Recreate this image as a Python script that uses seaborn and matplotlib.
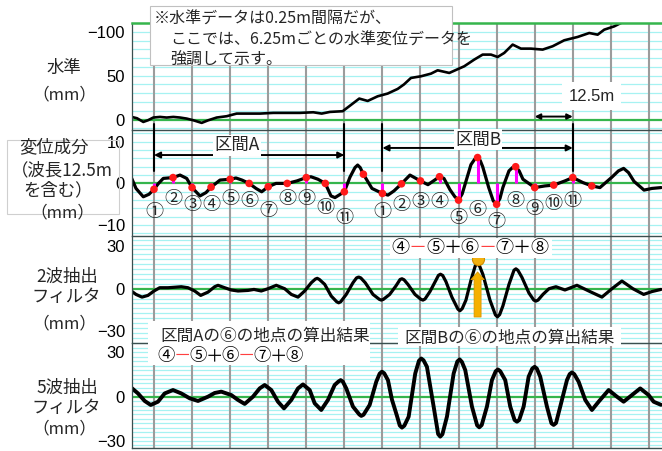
import matplotlib
matplotlib.use("Agg")
import matplotlib.pyplot as plt
from matplotlib.patches import Rectangle
import numpy as np
import pandas as pd
import seaborn as sns

# ---------------- data (distance in m, values in mm) ----------------
# track level
level_x = [-7.32, -5.58, -3.51, -1.97, -0.23, 1.97, 4.17, 6.34, 8.54, 10.74,
           12.90, 15.66, 17.83, 20.58, 23.87, 27.15, 30.43, 34.80, 39.17, 43.57,
           47.93, 52.30, 55.06, 57.78, 61.95, 64.12, 67.40, 70.16, 73.44, 76.72,
           80.01, 82.07, 84.37, 87.66, 90.94, 93.14, 96.95, 101.87, 105.15, 107.91,
           110.64, 112.84, 115.00, 117.76, 120.49, 123.77, 127.61, 130.89, 134.70, 139.10,
           142.91, 145.67, 147.83, 151.12, 153.32, 157.9]
level_mm = [3.0, 1.5, -2.7, -0.8, 2.3, 3.0, 2.3, 3.0, 2.3, 1.1,
            -0.8, -3.8, -0.8, 2.3, 3.8, 6.8, 6.8, 6.8, 7.6, 7.6,
            7.6, 8.3, 6.8, 8.7, 9.5, 15.2, 23.9, 21.2, 26.5, 29.6,
            34.9, 40.0, 47.4, 49.3, 52.3, 56.1, 53.1, 60.7, 68.3, 74.0,
            74.0, 71.3, 75.9, 85.4, 80.8, 80.8, 79.7, 83.5, 90.3, 94.1,
            98.6, 96.7, 102.4, 106.2, 110.0, 116.0]

# displacement component: values every 6.25 m in section A and section B
sec_a_x = [0.0, 6.25, 12.5, 18.75, 25.0, 31.25, 37.5, 43.75, 50.0, 56.25, 62.5]
sec_a_mm = [-1.4, 1.4, -1.0, -0.9, 1.0, 0.0, -0.8, 0.0, 1.4, 0.0, -2.0]
sec_b_x = [75.0, 81.25, 87.5, 93.75, 100.0, 106.25, 112.5, 118.75, 125.0, 131.25, 137.5]
sec_b_mm = [-2.4, -0.1, 0.6, 1.6, -4.0, 6.2, -5.0, 4.0, -1.0, -0.4, 1.4]
side_x = [68.75, 143.75]
side_mm = [2.2, -0.6]
# displacement component between the 6.25 m points
disp_x = [-7.32, -5.91, -3.51, -1.64, 1.48, 3.05, 8.54, 10.74, 15.10, 17.07,
          21.67, 26.92, 28.89, 33.49, 35.36, 40.05, 46.95, 51.54, 53.84, 58.11,
          59.42, 64.35, 66.0, 66.87, 67.7, 71.57, 76.82, 78.79, 84.04, 89.95,
          95.21, 97.18, 98.8, 101.2, 102.43, 104.07, 105.3, 107.1, 107.93, 109.91,
          111.4, 113.6, 114.54, 116.55, 117.7, 119.9, 121.14, 128.36, 134.93, 140.84,
          146.42, 150.36, 152.5, 154.2, 155.8, 157.6, 160.9, 163.5, 166.5]
disp_mm = [1.2, -1.2, -3.2, -2.6, 0.0, 1.2, 2.0, 1.2, -3.0, -2.2,
           0.8, 1.3, 0.8, -1.2, -2.0, 0.0, 0.6, 1.6, 1.0, -3.0,
           -3.4, 1.5, 3.8, 4.4, 3.8, -1.2, -2.8, -1.8, 2.0, -0.3,
           1.2, -1.5, -3.2, -2.5, 0.5, 4.5, 5.8, 5.5, 4.0, -1.0,
           -4.2, -3.6, -1.0, 3.0, 3.8, 3.0, 1.0, -0.6, 0.6, 0.2,
           -1.0, 1.5, 3.0, 3.6, 2.6, 0.5, -1.6, -1.2, -1.0]

# 2-wave extraction filter output
wave2_x = [-7.45, -5.91, -3.94, -1.97, 0.0, 1.87, 4.60, 6.57, 8.96, 11.16,
           13.36, 15.33, 17.73, 19.93, 21.01, 23.21, 25.38, 27.58, 30.86, 32.83,
           35.23, 37.43, 40.15, 42.91, 45.08, 47.28, 49.47, 51.64, 53.0, 53.61,
           54.3, 56.04, 58.21, 60.0, 60.64, 61.3, 63.13, 65.33, 66.5, 67.2,
           67.9, 69.37, 71.90, 74.0, 74.62, 75.3, 77.38, 79.45, 80.8, 81.42,
           82.1, 83.39, 85.69, 87.6, 88.31, 89.0, 90.61, 92.58, 93.4, 94.06,
           94.8, 95.86, 97.83, 99.8, 100.46, 101.2, 102.43, 104.07, 105.5, 106.2,
           106.9, 108.0, 110.31, 112.1, 112.77, 113.5, 114.58, 116.55, 118.2, 118.84,
           119.5, 120.81, 123.11, 124.7, 125.41, 126.1, 127.71, 129.68, 131.98, 134.93,
           138.87, 143.14, 147.08, 150.36, 153.64, 157.25, 160.77, 163.49, 166.45]
wave2_mm = [-1.6, -4.0, -5.9, -4.7, -1.6, 0.7, 0.7, 1.0, 1.4, 0.7,
            -1.6, -4.7, -2.4, 1.4, 2.4, 0.7, -0.9, -1.6, -1.2, -0.5,
            -1.6, 0.0, 2.4, 0.0, -4.0, -5.9, -1.6, 4.2, 6.8, 7.3,
            6.5, 3.1, -5.2, -9.2, -9.9, -9.2, -4.0, 4.2, 7.6, 8.2,
            7.6, 4.2, -4.0, -7.5, -8.0, -7.5, -4.0, 2.0, 6.5, 7.0,
            6.3, 3.0, -4.0, -7.4, -8.0, -7.2, -2.0, 6.0, 9.4, 10.2,
            9.3, 5.0, -6.0, -14.4, -15.5, -14.0, -8.0, 6.0, 16.2, 17.5,
            16.0, 10.0, -8.0, -18.4, -19.8, -18.2, -12.0, 3.0, 13.0, 14.0,
            12.9, 8.0, -3.0, -8.0, -8.7, -8.0, -4.0, 0.0, 1.4, -0.9,
            2.4, -2.0, -5.9, 0.0, 5.4, 0.0, -4.0, -2.0, -0.5]

# 5-wave extraction filter output
wave5_x = [-7.45, -5.25, -3.05, -1.08, 1.31, 3.51, 6.24, 8.96, 11.72, 14.45,
           17.73, 19.93, 22.09, 25.38, 27.58, 29.78, 32.50, 34.70, 36.34, 38.51,
           40.71, 42.68, 45.08, 47.28, 48.92, 51.12, 52.76, 54.92, 57.12, 59.32,
           60.6, 61.29, 62.0, 63.13, 65.33, 67.4, 68.06, 68.8, 70.81, 72.98,
           74.1, 74.85, 75.6, 76.82, 78.13, 79.78, 80.7, 81.42, 82.2, 83.62,
           85.78, 87.0, 87.75, 88.5, 89.62, 91.82, 93.3, 93.99, 94.7, 96.19,
           98.39, 99.6, 100.36, 101.1, 102.2, 104.4, 106.1, 106.8, 107.6, 109.32,
           110.96, 112.2, 112.94, 113.7, 115.33, 116.97, 118.4, 119.17, 119.9, 121.37,
           123.01, 124.2, 124.98, 125.7, 126.82, 129.02, 130.5, 131.22, 132.0, 133.39,
           135.59, 136.5, 137.23, 138.0, 139.43, 141.6, 143.79, 145.99, 149.28, 152.0,
           154.2, 156.93, 159.65, 162.41, 164.05, 166.45]
wave5_mm = [6.1, 2.2, -2.9, -5.6, -3.4, 2.2, 4.5, 2.2, -1.1, -2.9,
            0.0, 2.5, 3.4, 1.1, -2.2, -4.9, 0.0, 5.6, 7.9, 4.5,
            -3.4, -7.9, -2.2, 5.6, 8.3, 4.5, -4.5, -9.0, -2.2, 7.9,
            10.3, 11.2, 10.2, 5.6, -6.7, -12.0, -13.0, -12.2, -5.6, 10.1,
            15.6, 16.9, 15.8, 11.2, -2.0, -13.0, -19.5, -20.9, -19.6, -13.5,
            15.7, 24.3, 25.8, 24.6, 20.2, -6.7, -25.3, -27.0, -25.4, -13.5,
            15.7, 23.8, 25.2, 23.5, 18.0, -6.7, -19.4, -20.7, -19.2, -6.7,
            11.2, 17.2, 18.4, 17.2, 11.2, -6.7, -15.8, -16.9, -15.8, -6.7,
            13.5, 19.0, 20.2, 19.0, 13.5, -6.7, -18.0, -19.1, -17.8, -6.7,
            11.2, 15.3, 16.4, 15.2, 10.1, -2.2, -9.0, -3.4, 4.5, 0.0,
            -3.4, 1.1, 5.6, 1.1, -3.4, -5.5]

point_labels = ["①", "②", "③", "④", "⑤", "⑥", "⑦", "⑧", "⑨", "⑩", "⑪"]
formula_parts = ["④", "－", "⑤", "＋", "⑥", "－", "⑦", "＋", "⑧"]

level_ticks, level_ticklabels = [100, 50, 0], ["−100", "50", "0"]
disp_ticks, disp_ticklabels = [10, 0, -10], ["10", "0", "−10"]
filt_ticks, filt_ticklabels = [30, 0, -30], ["30", "0", "−30"]

# ---------------- styling ----------------
sns.set_theme(style="white")
JP = ["Noto Sans CJK JP", "DejaVu Sans"]
LAT = ["Liberation Sans", "DejaVu Sans"]
plt.rcParams["font.family"] = JP

W, H = 662, 451
fig = plt.figure(figsize=(W / 100, H / 100), dpi=100)


def fx(px):
    return px / W


def fy(py):
    return 1 - py / H


def panel(top_px, bot_px):
    return fig.add_axes([fx(132), fy(bot_px), 1 - fx(132), (bot_px - top_px) / H])


X_LIM = (-7.22, 166.8)
GREEN = "#35B54C"
CYAN = "#A6F2F2"
FRAME = "#3B4F4F"

ax1 = panel(23, 130)
ax2 = panel(130, 236)
ax3 = panel(236, 343)
ax4 = panel(343, 448)

specs = [
    (ax1, (-11.9, 110.0), 10.0, level_ticks, level_ticklabels),
    (ax2, (-12.6, 12.8), 2.0, disp_ticks, disp_ticklabels),
    (ax3, (-38.2, 37.1), 3.45, filt_ticks, filt_ticklabels),
    (ax4, (-34.7, 36.3), 3.0, filt_ticks, filt_ticklabels),
]
for i, (ax, ylim, step, ticks, labels) in enumerate(specs):
    ax.set_xlim(*X_LIM)
    ax.set_ylim(*ylim)
    ax.set_facecolor("white")
    rows = np.concatenate([np.arange(step, ylim[1], step), -np.arange(step, -ylim[0], step)])
    ax.hlines(rows, *X_LIM, color=CYAN, lw=0.9, zorder=0.5)
    ax.vlines(np.arange(0, X_LIM[1], 12.5), *ylim, color="#9C9C9C", lw=1.5, zorder=0.6)
    ax.axhline(0, color=GREEN, lw=1.6, zorder=1)
    ax.set_xticks([])
    ax.set_yticks(ticks)
    ax.set_yticklabels(labels, fontsize=12, family=LAT)
    ax.tick_params(axis="y", length=0, pad=5, colors="black")
    ax.grid(False)
    for side in ("right", "bottom"):
        ax.spines[side].set_visible(False)
    ax.spines["left"].set_color(FRAME)
    ax.spines["left"].set_linewidth(0.9)
    ax.spines["top"].set_color(GREEN if i == 0 else FRAME)
    ax.spines["top"].set_linewidth(1.8 if i == 0 else 1.0)
ax4.spines["bottom"].set_visible(True)
ax4.spines["bottom"].set_color(FRAME)
ax4.spines["bottom"].set_linewidth(1.0)

# ---------------- curves ----------------
sns.lineplot(x=level_x, y=level_mm, ax=ax1, color="black", lw=1.9, zorder=2)

disp = pd.concat([
    pd.DataFrame({"x": disp_x, "mm": disp_mm}),
    pd.DataFrame({"x": sec_a_x, "mm": sec_a_mm}),
    pd.DataFrame({"x": sec_b_x, "mm": sec_b_mm}),
    pd.DataFrame({"x": side_x, "mm": side_mm}),
]).sort_values("x")
sns.lineplot(data=disp, x="x", y="mm", ax=ax2, color="black", lw=2.3, zorder=2)

sns.lineplot(x=wave2_x, y=wave2_mm, ax=ax3, color="black", lw=2.3, zorder=2)
sns.lineplot(x=wave5_x, y=wave5_mm, ax=ax4, color="black", lw=2.8, zorder=2)

# sampled points with stems
pts_x = sec_a_x + sec_b_x
pts_mm = sec_a_mm + sec_b_mm
ax2.vlines(pts_x, 0, pts_mm, color="#FF00FF", lw=2.2, zorder=3)
sns.scatterplot(x=pts_x + side_x, y=pts_mm + side_mm, ax=ax2, color="#FF1A1A",
                s=30, edgecolor="none", zorder=4, legend=False)
for ax in (ax1, ax2, ax3, ax4):
    ax.set_xlabel("")
    ax.set_ylabel("")

# circled point numbers
label_y_a = [-6.8, -3.7, -5.2, -5.2, -3.7, -4.2, -6.6, -3.7, -3.7, -5.9, -8.3]
label_y_b = [-6.8, -5.2, -4.4, -4.4, -8.3, -6.4, -9.2, -4.2, -6.1, -4.9, -4.2]
for xs, ys in ((sec_a_x, label_y_a), (sec_b_x, label_y_b)):
    for xv, yv, lab in zip(xs, ys, point_labels):
        ax2.text(xv, yv, lab, ha="center", va="center", fontsize=13, zorder=5)

# section brackets and arrows
for xv in (sec_a_x[0], sec_a_x[-1], sec_b_x[0], sec_b_x[-1]):
    ax2.plot([xv, xv], [14.2, 3.0], color="black", lw=1.5, clip_on=False, zorder=5)
for (x0, x1), ya, name, xt, yt in (((sec_a_x[0], sec_a_x[-1]), 6.8, "区間A", 27.2, 9.1),
                                    ((sec_b_x[0], sec_b_x[-1]), 8.5, "区間B", 106.4, 10.5)):
    ax2.annotate("", xy=(x1, ya), xytext=(x0, ya),
                 arrowprops=dict(arrowstyle="<|-|>", lw=1.4, color="black",
                                 mutation_scale=9, shrinkA=0, shrinkB=0), zorder=5)
    ax2.text(xt, yt, name, ha="center", va="center", fontsize=12.5, zorder=6,
             bbox=dict(facecolor="white", edgecolor="none", pad=1.0))

# 12.5 m scale arrow on the level panel
ax1.annotate("", xy=(137.5, 3.4), xytext=(125.0, 3.4),
             arrowprops=dict(arrowstyle="<|-|>", lw=1.4, color="black",
                             mutation_scale=8, shrinkA=0, shrinkB=0), zorder=5)
ax1.text(143.8, 26.6, "12.5m", ha="center", va="center", fontsize=12, family=LAT,
         zorder=6, bbox=dict(facecolor="white", edgecolor="none", pad=4.5))

# result of ④−⑤+⑥−⑦+⑧ at point ⑥ of section B
b = sec_b_mm
b6_result = b[3] - b[4] + b[5] - b[6] + b[7]
ax3.annotate("", xy=(sec_b_x[5], 11.8), xytext=(sec_b_x[5], -19.9),
             arrowprops=dict(arrowstyle="simple,head_length=0.55,head_width=0.95,tail_width=0.5",
                             fc="#F5B000", ec="#D99500", lw=0.6, mutation_scale=10,
                             shrinkA=0, shrinkB=0), zorder=5)
ax3.scatter([sec_b_x[5]], [b6_result], s=75, color="#F2B10F", edgecolor="#D08A00",
            linewidth=0.8, zorder=6)

# ---------------- figure-level boxes and texts ----------------
def white_box(x0, y0, x1, y1, edge="none"):
    fig.add_artist(Rectangle((fx(x0), fy(y1)), (x1 - x0) / W, (y1 - y0) / H,
                             transform=fig.transFigure, facecolor="white",
                             edgecolor=edge, lw=0.8, zorder=5))


def formula(x_left, y, step, size):
    for k, part in enumerate(formula_parts):
        color = "#FF4040" if part == "－" else "black"
        fig.text(fx(x_left + step * (k + 0.5)), fy(y), part, ha="center", va="center",
                 fontsize=size, color=color, zorder=7)


# note box
white_box(150, 6, 452, 65, edge="#C0C0C0")
fig.text(fx(154), fy(19), "※水準データは0.25m間隔だが、", fontsize=11.5, va="center", zorder=7)
fig.text(fx(170), fy(40), "ここでは、6.25mごとの水準変位データを", fontsize=11.5, va="center", zorder=7)
fig.text(fx(170), fy(60), "強調して示す。", fontsize=11.5, va="center", zorder=7)

# result captions
white_box(148, 321, 370, 365)
fig.text(fx(160), fy(336), "区間Aの⑥の地点の算出結果", fontsize=12, va="center", zorder=7)
formula(158, 356, 16.0, 12.5)

white_box(398, 327, 621, 346)
fig.text(fx(404), fy(338), "区間Bの⑥の地点の算出結果", fontsize=12, va="center", zorder=7)

white_box(390, 238, 552, 258)
formula(392, 248, 17.3, 13)

# left-hand panel titles
fig.add_artist(Rectangle((fx(7), fy(214)), 112 / W, 74 / H, transform=fig.transFigure,
                         facecolor="none", edgecolor="#CFCFCF", lw=0.8, zorder=5))
titles = [("水準", 64, 68, 12.5), ("（mm）", 64, 95, 12),
          ("変位成分", 54, 147, 12.5), ("（波長12.5m", 62, 170, 12.5), ("を含む）", 58, 190, 12.5),
          ("（mm）", 62, 213, 12),
          ("2波抽出", 67, 277, 12.5), ("フィルタ", 66, 297, 12.5), ("（mm）", 64, 324, 12),
          ("5波抽出", 67, 388, 12.5), ("フィルタ", 66, 408, 12.5), ("（mm）", 64, 429, 12)]
for s, cx, cy, size in titles:
    fig.text(fx(cx), fy(cy), s, ha="center", va="center", fontsize=size, zorder=7)

fig.savefig("out.png", dpi=100)
